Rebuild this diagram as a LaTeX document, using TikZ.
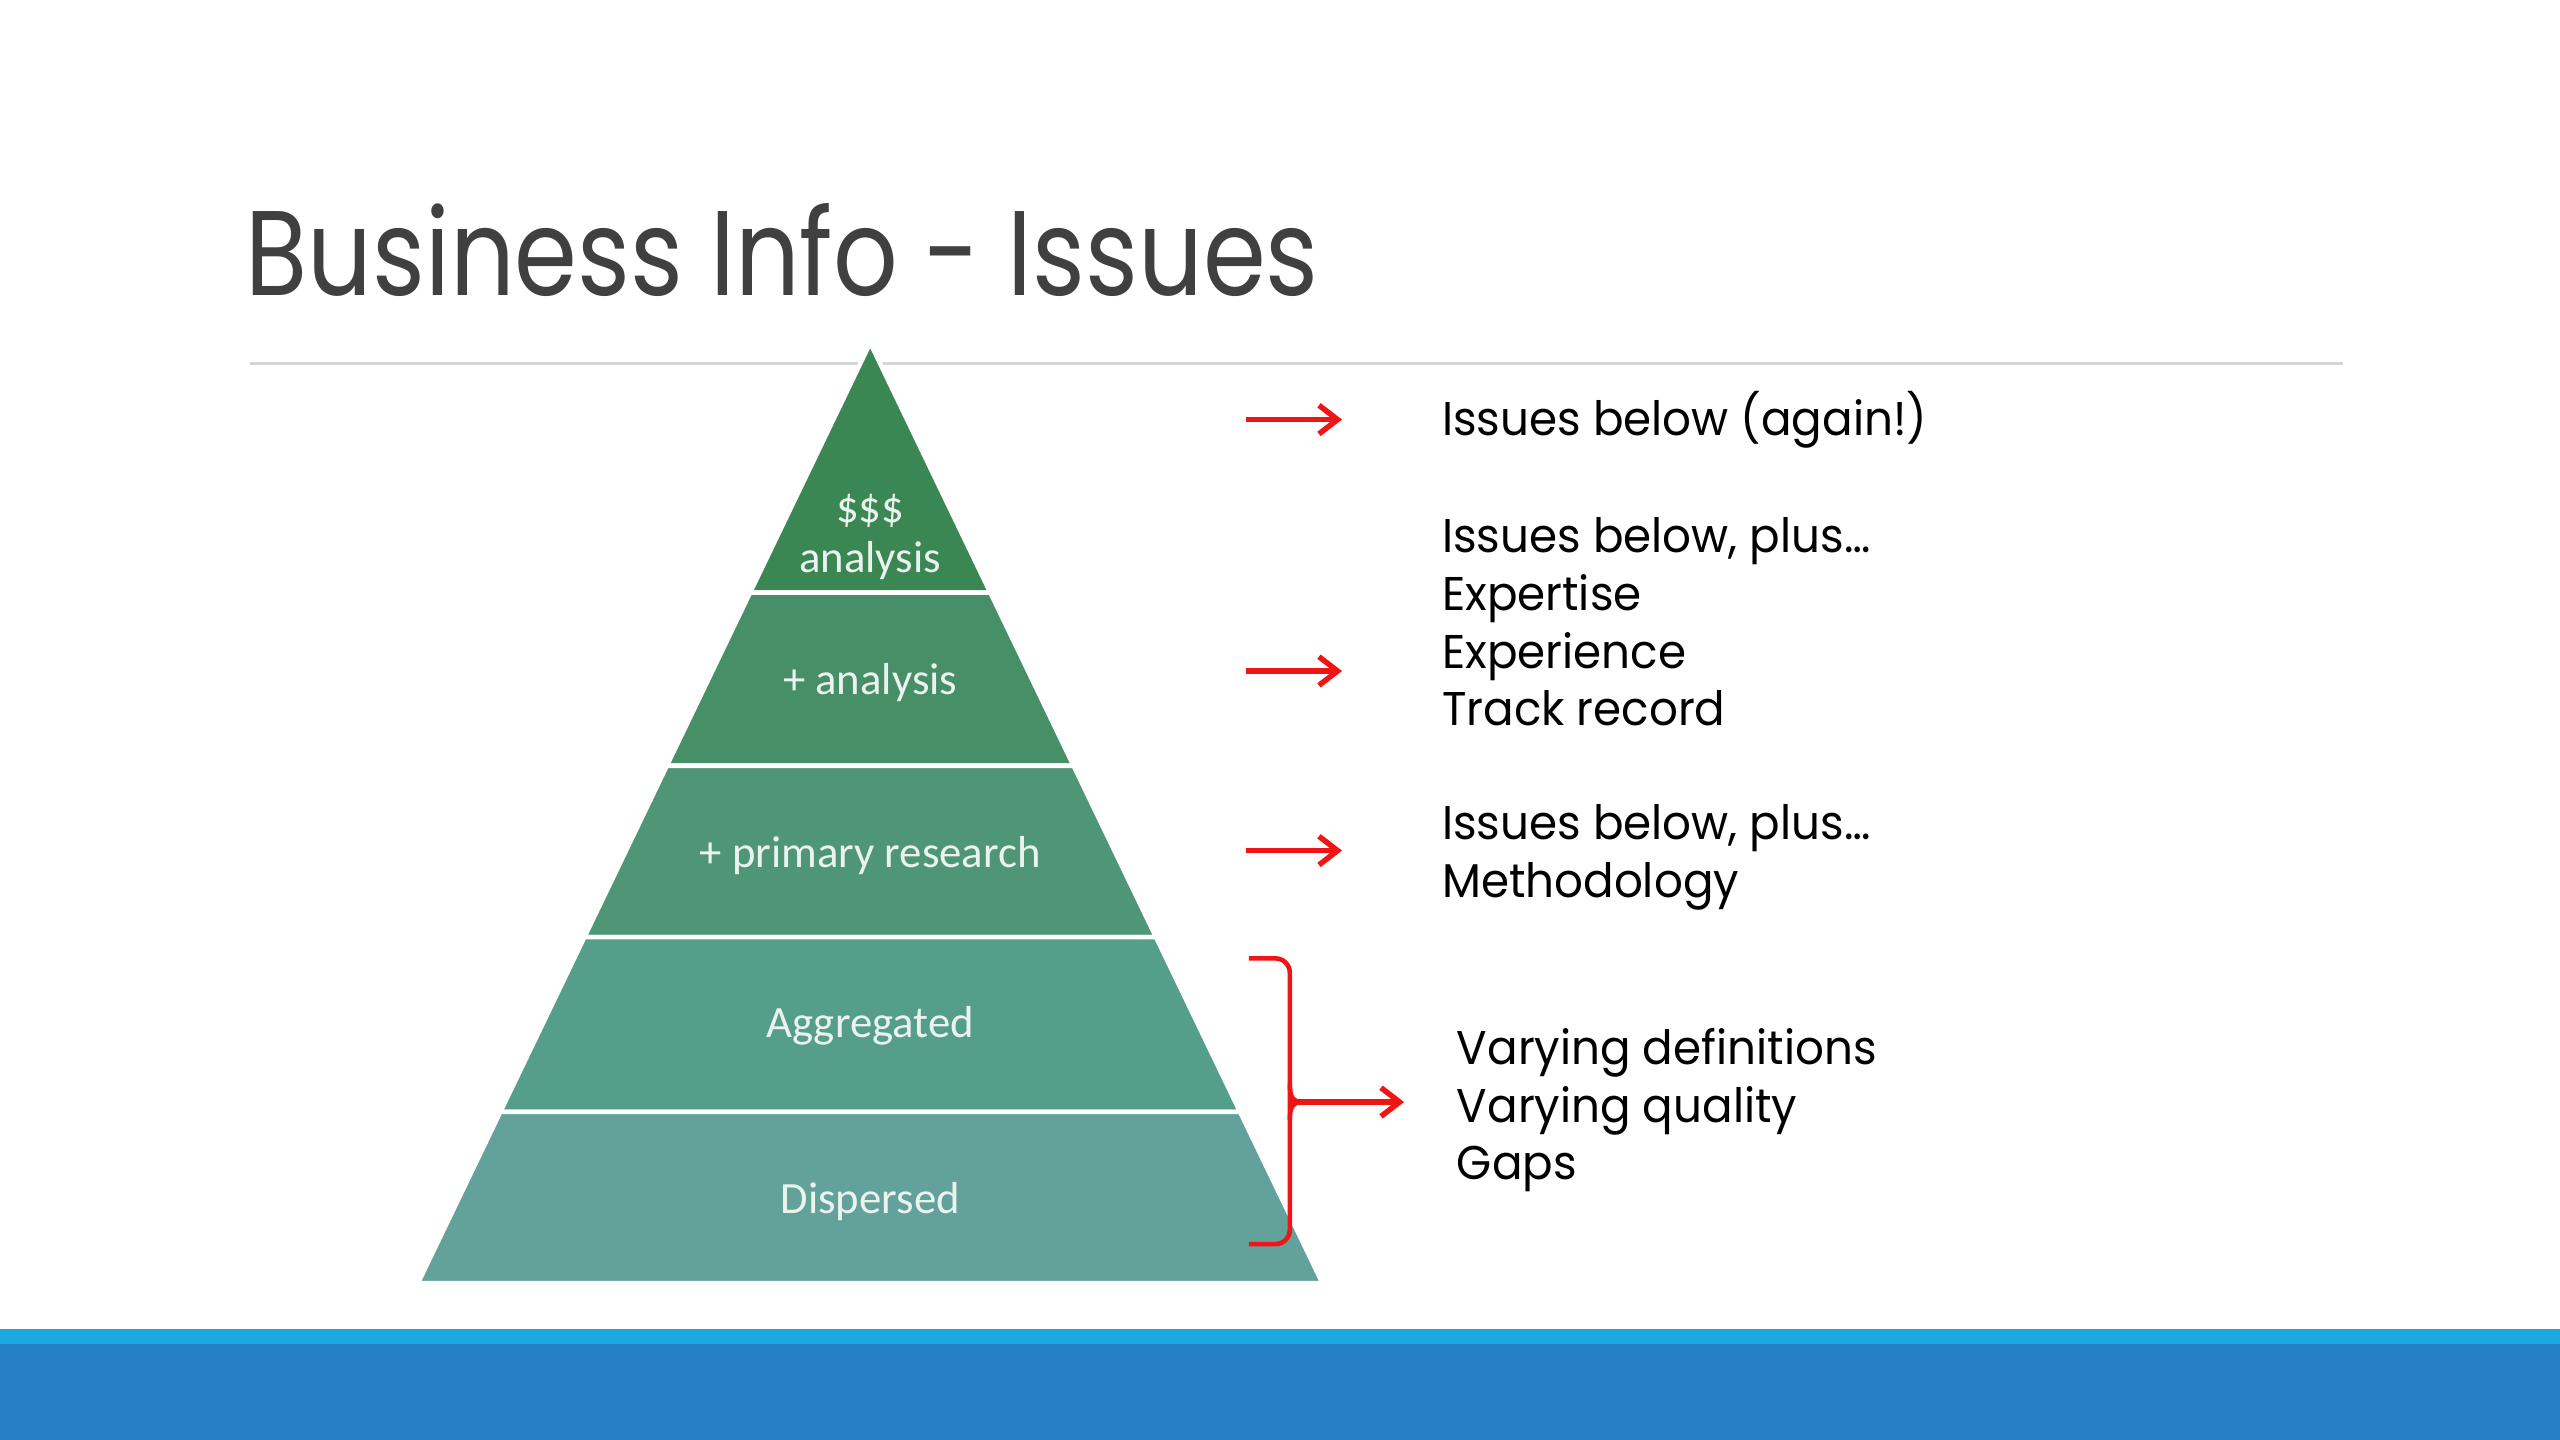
\documentclass[tikz,border=0pt]{standalone}
\usepackage{fontspec}
\setmainfont{Poppins}[FakeStretch=0.955]
\newfontfamily\titlefont{Poppins}[FakeStretch=0.84]
\newfontfamily\calibrifont{Carlito}
\usetikzlibrary{arrows.meta,positioning}

\definecolor{layA}{RGB}{59,135,83}
\definecolor{layB}{RGB}{70,143,103}
\definecolor{layC}{RGB}{78,150,118}
\definecolor{layD}{RGB}{85,158,138}
\definecolor{layE}{RGB}{98,162,155}
\definecolor{rulegray}{RGB}{212,212,212}
\definecolor{titlegray}{RGB}{64,64,64}
\definecolor{barlight}{RGB}{28,168,224}
\definecolor{bardark}{RGB}{38,128,197}
\definecolor{arrowred}{RGB}{240,20,20}

\tikzset{
  laylabel/.style={text=white!90!layA, font=\calibrifont\fontsize{15.6}{17.6}\selectfont, align=center},
  issue/.style={anchor=west, align=left, inner sep=0pt, font=\fontsize{16.5}{20.1}\selectfont},
  redarrow/.style={draw=arrowred, line width=1.9pt, -{Straight Barb[length=6.5pt,width=10pt]}},
  bracket/.style={draw=arrowred, line width=1.6pt},
}

\begin{document}
\begin{tikzpicture}[x=0.02cm,y=-0.02cm]
\useasboundingbox (0,0) rectangle (1568,882);

% title
\node[anchor=base west, inner sep=0pt, text=titlegray, font=\titlefont\fontsize{42}{50}\selectfont] (title) at (150,181) {Business Info - Issues};
\draw[rulegray, line width=1.1pt] (153,222.5) -- (1435,222.5);

% pyramid
\foreach \ya/\yb/\col in {210/363/layA,363/469/layB,469/574/layC,574/681/layD,681/786/layE}
  \filldraw[fill=\col, draw=white, line width=1.6pt] ({533-(\ya-210)*0.481},\ya) -- ({533+(\ya-210)*0.481},\ya) -- ({533+(\yb-210)*0.481},\yb) -- ({533-(\yb-210)*0.481},\yb) -- cycle;

\node[laylabel] (money) at (533,329) {\$\$\$\\analysis};
\node[laylabel] (analysis) at (533,418) {+ analysis};
\node[laylabel] (primary) at (533,524) {+ primary research};
\node[laylabel] (aggregated) at (533,628) {Aggregated};
\node[laylabel] (dispersed) at (533,736) {Dispersed};

% issues
\node[issue] (again) at (883,257) {Issues below (again!)};
\node[issue] (plusA) at (883,381) {Issues below, plus…\\Expertise\\Experience\\Track record};
\node[issue] (plusB) at (883,525) {Issues below, plus…\\Methodology};
\node[issue] (vary) at (892,680) {Varying definitions\\Varying quality\\Gaps};

\foreach \yy [count=\i] in {257,411,521} {
  \coordinate (s\i) at (763,\yy);
  \coordinate (e\i) at (822,\yy);
  \draw[redarrow] (s\i) -- (e\i);
}

% bracket
\coordinate (brtop) at (765,587);
\coordinate (brbot) at (765,762);
\coordinate (brtip) at (790,675);
\draw[bracket, rounded corners=5pt] (brtop) -- (790,587) -- (790,762) -- (brbot);
\draw[bracket] (790,664) .. controls (790,672) and (792,675) .. (797,675) .. controls (792,675) and (790,678) .. (790,686);
\draw[redarrow, shorten >=0.64cm] (brtip) -- (brtip -| vary.west);

% bottom bar
\fill[barlight] (0,814) rectangle (1568,823);
\fill[bardark] (0,823) rectangle (1568,882);
\end{tikzpicture}
\end{document}
